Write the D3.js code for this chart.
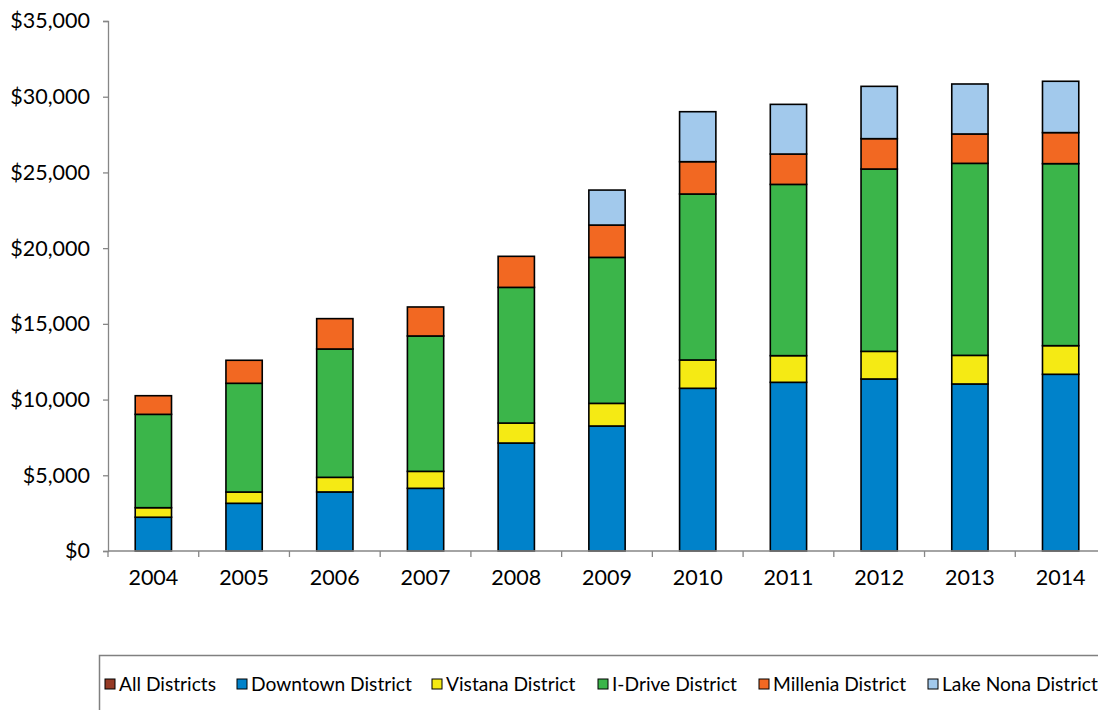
<!DOCTYPE html>
<html><head><meta charset="utf-8">
<script src="https://cdn.jsdelivr.net/npm/d3@7"></script>
<style>body{margin:0;background:#fff}svg{display:block}text{font-family:Lato,"Open Sans",sans-serif;fill:#000}</style>
</head><body>
<svg id="c" width="1098" height="710"></svg>
<script>
const years = ["2004","2005","2006","2007","2008","2009","2010","2011","2012","2013","2014"];
const seriesNames = ["All Districts","Downtown District","Vistana District","I-Drive District","Millenia District","Lake Nona District"];
const seriesColors = ["#953A25","#0082CA","#F5EA14","#3BB54A","#F26822","#A2C9EC"];
const allDistricts = [0,0,0,0,0,0,0,0,0,0,0];
const downtown = [2230,3150,3900,4140,7130,8255,10745,11140,11360,11030,11670];
const vistana  = [630,745,965,1120,1320,1495,1870,1760,1825,1890,1890];
const idrive   = [6165,7180,8475,8940,8960,9640,10960,11310,12040,12680,12020];
const millenia = [1230,1520,2005,1915,2050,2135,2135,2005,2005,1940,2050];
const lakeNona = [0,0,0,0,0,2310,3300,3280,3455,3300,3390];
const yTicks = [0,5000,10000,15000,20000,25000,30000,35000];

const seriesValues = [allDistricts, downtown, vistana, idrive, millenia, lakeNona];
const rows = years.map((y,i)=>{const r={year:y}; seriesNames.forEach((s,j)=>r[s]=seriesValues[j][i]); return r;});
const stacked = d3.stack().keys(seriesNames)(rows);

const svg = d3.select("#c");
const L=108, R=1106, T=21, B=551;
const x = d3.scaleBand().domain(years).range([L,R]).paddingInner(0.6).paddingOuter(0.3);
const y = d3.scaleLinear().domain([0,35000]).range([B,T]);
const axisColor="#868686";

// bars
stacked.forEach((layer,j)=>{
  svg.append("g").selectAll("rect").data(layer.filter(d=>d[1]-d[0]>0)).join("rect")
    .attr("x",d=>x(d.data.year)).attr("width",x.bandwidth())
    .attr("y",d=>y(d[1])).attr("height",d=>y(d[0])-y(d[1]))
    .attr("fill",seriesColors[j]).attr("stroke","#000").attr("stroke-width",1.6);
});

// y axis
const ya = svg.append("g").attr("transform",`translate(${L},0)`)
  .call(d3.axisLeft(y).tickValues(yTicks).tickSize(5).tickPadding(13).tickFormat(d=>"$"+d3.format(",")(d)));
ya.select(".domain").attr("stroke",axisColor).attr("stroke-width",1.3);
ya.selectAll(".tick line").attr("stroke",axisColor).attr("stroke-width",1.3);
ya.selectAll("text").style("font-size","21.5px").attr("fill","#000");

// x axis
const step = x.step();
const off = (step - x.bandwidth())/2;
svg.append("line").attr("x1",L).attr("x2",1098).attr("y1",B).attr("y2",B).attr("stroke",axisColor).attr("stroke-width",1.3);
svg.append("g").selectAll("line").data(years).join("line")
  .attr("x1",d=>x(d)-off).attr("x2",d=>x(d)-off).attr("y1",B).attr("y2",B+6)
  .attr("stroke",axisColor).attr("stroke-width",1.3);
svg.append("g").selectAll("text").data(years).join("text")
  .attr("x",d=>x(d)+x.bandwidth()/2).attr("y",585).attr("text-anchor","middle")
  .style("font-size","21.5px").text(d=>d);

// legend
svg.append("rect").attr("x",99.5).attr("y",655.5).attr("width",1100).attr("height",100)
  .attr("fill","none").attr("stroke","#808080").attr("stroke-width",1.5);
const legX = [105,237,432,598,759,928];
const lg = svg.append("g").selectAll("g").data(seriesNames).join("g")
  .attr("transform",(d,i)=>`translate(${legX[i]},679)`);
lg.append("rect").attr("width",10).attr("height",10).attr("fill",(d,i)=>seriesColors[i]).attr("stroke","#000").attr("stroke-width",1);
lg.append("text").attr("x",14).attr("y",12).style("font-size","19.2px").text(d=>d);
</script>
</body></html>
